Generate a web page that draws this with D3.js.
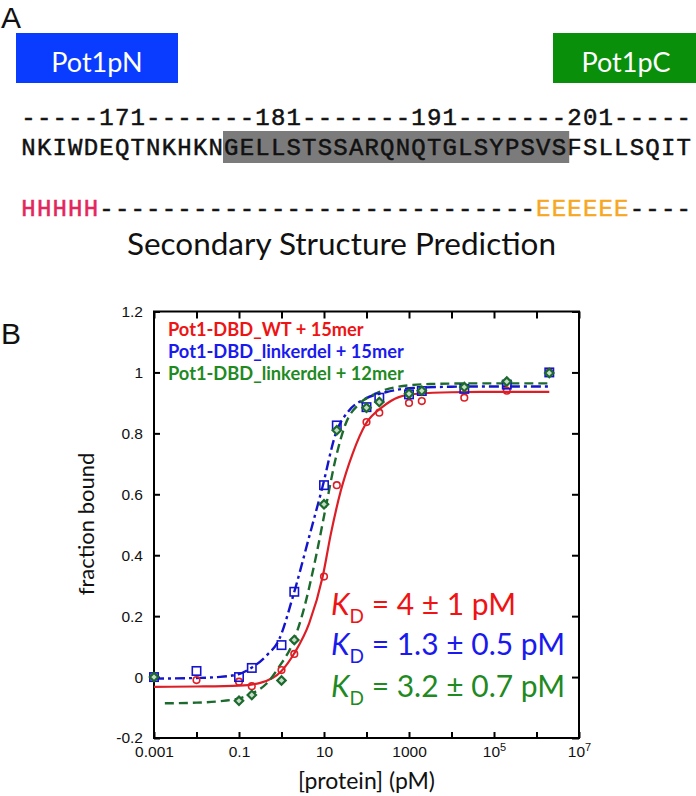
<!DOCTYPE html>
<html><head><meta charset="utf-8">
<script src="https://cdn.jsdelivr.net/npm/d3@7"></script>
<style>body{margin:0;background:#fff} svg{display:block}</style>
</head><body>
<script>
// ---------------- DATA ----------------
const concentrations = [0.001, 0.01, 0.1, 0.2, 1, 2, 10, 20, 100, 200, 1000, 2000, 20000, 200000, 2000000];
const wt15Fraction      = [0, -0.01, -0.015, -0.03, 0.023, 0.076, 0.33, 0.63, 0.837, 0.868, 0.90, 0.906, 0.917, 0.94, 1.0];
const linker15Fraction  = [0, 0.02, 0.0, 0.03, 0.105, 0.28, 0.63, 0.826, 0.886, 0.917, 0.928, 0.939, 0.946, 0.96, 1.0];
const linker12Fraction  = [0, null, -0.078, -0.059, -0.011, 0.122, 0.567, 0.81, 0.884, 0.903, 0.93, 0.94, 0.952, 0.97, 0.998];

const wt15FitConc  = [0.001, 0.01, 0.1, 0.316, 1, 2, 4.47, 9.3, 14.5, 25, 47, 95, 234, 575, 1585, 10000, 100000, 2000000];
const wt15FitValue = [-0.032, -0.031, -0.028, -0.019, 0.02, 0.078, 0.176, 0.329, 0.47, 0.613, 0.733, 0.83, 0.886, 0.919, 0.93, 0.935, 0.936, 0.936];

const linker15FitConc  = [0.001, 0.01, 0.0316, 0.1, 0.21, 0.44, 0.89, 1.82, 4.47, 9.2, 19, 39, 95, 282, 1000, 10000, 100000, 2000000];
const linker15FitValue = [-0.005, -0.003, 0.0, 0.01, 0.033, 0.07, 0.125, 0.26, 0.46, 0.624, 0.80, 0.875, 0.914, 0.935, 0.948, 0.953, 0.954, 0.954];

const linker12FitConc  = [0.0018, 0.01, 0.042, 0.1, 0.21, 0.44, 0.89, 1.82, 3.16, 6.46, 11.1, 19, 32, 68, 162, 500, 3162, 31623, 2000000];
const linker12FitValue = [-0.086, -0.084, -0.078, -0.07, -0.053, -0.022, 0.035, 0.11, 0.21, 0.395, 0.56, 0.72, 0.83, 0.897, 0.93, 0.952, 0.962, 0.964, 0.964];

const seriesNames = ["Pot1-DBD_WT + 15mer", "Pot1-DBD_linkerdel + 15mer", "Pot1-DBD_linkerdel + 12mer"];
const kdValues = ["= 4 \u00B1 1 pM", "= 1.3 \u00B1 0.5 pM", "= 3.2 \u00B1 0.7 pM"];

const xTickValues = [1e-3, 1e-2, 1e-1, 1, 10, 100, 1e3, 1e4, 1e5, 1e6, 1e7];
const xTickLabels = ["0.001", "", "0.1", "", "10", "", "1000", "", "10^5", "", "10^7"];
const yTickValues = [-0.2, 0, 0.2, 0.4, 0.6, 0.8, 1.0, 1.2];
const yTickLabels = ["-0.2", "0", "0.2", "0.4", "0.6", "0.8", "1", "1.2"];

const domainNames = ["Pot1pN", "Pot1pC"];
const numbering = "-----171-------181-------191-------201-----";
const sequence  = "NKIWDEQTNKHKNGELLSTSSARQNQTGLSYPSVSFSLLSQIT";
const ssPrediction = "HHHHH" + "----------------------------" + "EEEEEE" + "----";
const linkerStart = 13, linkerEnd = 35; // highlighted residues [start, end)

// ---------------- LAYOUT ----------------
const W = 696, H = 796;
const svg = d3.select("body").append("svg").attr("width", W).attr("height", H);
const calibri = "Lato, 'Open Sans', sans-serif";
const arial = "'Liberation Sans', Arial, sans-serif";
const mono = "'Liberation Mono', 'Courier New', monospace";

function fitWidth(sel, target) {
  const w = sel.node().getComputedTextLength();
  const fs = parseFloat(sel.attr("font-size"));
  sel.attr("font-size", fs * target / w);
  return fs * target / w;
}

// ---- Panel A ----
svg.append("text").attr("x", 1).attr("y", 27.5).attr("font-family", arial)
  .attr("font-size", 30).attr("fill", "#111").text("A");

const boxes = [
  {x: 16, w: 162, fill: "#0a3cff", cx: 97},
  {x: 553, w: 143, fill: "#0a8f0a", cx: 626}
];
boxes.forEach((b, i) => {
  svg.append("rect").attr("x", b.x).attr("y", 33).attr("width", b.w).attr("height", 50).attr("fill", b.fill);
  svg.append("text").attr("x", b.cx).attr("y", 71.5).attr("text-anchor", "middle")
    .attr("font-family", calibri).attr("font-size", 27).attr("fill", "#fff").text(domainNames[i]);
});

const charX = d3.scaleLinear().domain([0, 43]).range([20.7, 691.5]);
const pitch = charX(1) - charX(0);

svg.append("rect").attr("x", charX(linkerStart) - 0.5).attr("y", 131)
  .attr("width", charX(linkerEnd) - charX(linkerStart) + 3).attr("height", 32).attr("fill", "#7b7b7b");

function drawMono(str, baseline, colorFn) {
  svg.append("g").selectAll("text").data(str.split("")).join("text")
    .attr("x", (d, i) => charX(i) + pitch / 2).attr("y", baseline)
    .attr("text-anchor", "middle").attr("font-family", mono).attr("font-size", 24)
    .attr("stroke-width", 0.5)
    .attr("fill", (d, i) => colorFn(d, i)).attr("stroke", (d, i) => colorFn(d, i)).text(d => d);
}
drawMono(numbering, 125, () => "#111");
drawMono(sequence, 155, () => "#111");
drawMono(ssPrediction, 216, d => d === "H" ? "#e3265c" : d === "E" ? "#f7a823" : "#111");

const ssTitle = svg.append("text").attr("x", 127).attr("y", 255).attr("font-family", calibri)
  .attr("font-size", 26).attr("fill", "#111").text("Secondary Structure Prediction");
fitWidth(ssTitle, 429);

// ---- Panel B ----
svg.append("text").attr("x", 1).attr("y", 344).attr("font-family", arial)
  .attr("font-size", 30).attr("fill", "#111").text("B");

const x = d3.scaleLog().domain([1e-3, 1e7]).range([154, 579]);
const y = d3.scaleLinear().domain([-0.2, 1.2]).range([738, 311.5]);

const colors = {
  redText: "#ee1414", redLine: "#dc1e26",
  blueText: "#1a1aee", blueLine: "#1414cc",
  greenText: "#1f8a1f", greenLine: "#1d6a2e"
};

// axes
const gx = svg.append("g").attr("transform", `translate(0,${y.range()[0]})`)
  .call(d3.axisBottom(x).tickValues(xTickValues).tickSizeInner(-6).tickSizeOuter(0).tickPadding(8)
    .tickFormat((d, i) => xTickLabels[i]));
const gxt = svg.append("g").attr("transform", `translate(0,${y.range()[1]})`)
  .call(d3.axisTop(x).tickValues(xTickValues).tickSizeInner(-7).tickSizeOuter(0).tickFormat(""));
const gy = svg.append("g").attr("transform", `translate(${x.range()[0]},0)`)
  .call(d3.axisLeft(y).tickValues(yTickValues).tickSizeInner(-6).tickSizeOuter(0).tickPadding(11)
    .tickFormat((d, i) => yTickLabels[i]));
const gyr = svg.append("g").attr("transform", `translate(${x.range()[1]},0)`)
  .call(d3.axisRight(y).tickValues(yTickValues).tickSizeInner(-7).tickSizeOuter(0).tickFormat(""));

[gx, gxt, gy, gyr].forEach(g => {
  g.select(".domain").remove();
  g.selectAll(".tick line").attr("stroke", "#000").attr("stroke-width", 2);
  g.selectAll("text").attr("font-family", arial).attr("font-size", 15.5).attr("fill", "#111");
});
// superscript labels
gx.selectAll(".tick text").each(function(d, i) {
  const lab = xTickLabels[i];
  if (lab.includes("^")) {
    const [base, exp] = lab.split("^");
    const t = d3.select(this).text(null);
    t.append("tspan").text(base);
    t.append("tspan").attr("font-size", 11).attr("dy", "-0.55em").text(exp);
  }
});

svg.append("rect").attr("x", x.range()[0]).attr("y", y.range()[1])
  .attr("width", x.range()[1] - x.range()[0]).attr("height", y.range()[0] - y.range()[1])
  .attr("fill", "none").attr("stroke", "#000").attr("stroke-width", 2);

// axis titles
svg.append("text").attr("transform", `translate(94,524) rotate(-90)`).attr("text-anchor", "middle")
  .attr("font-family", calibri).attr("font-size", 22).attr("fill", "#111").text("fraction bound");
svg.append("text").attr("x", 366.5).attr("y", 789).attr("text-anchor", "middle")
  .attr("font-family", calibri).attr("font-size", 23).attr("fill", "#111").text("[protein] (pM)");

// fit curves
const line = d3.line().x(d => x(d.c)).y(d => y(d.v)).curve(d3.curveMonotoneX);
function fitData(cs, vs) { return cs.map((c, i) => ({c, v: vs[i]})); }
svg.append("path").datum(fitData(wt15FitConc, wt15FitValue)).attr("d", line)
  .attr("fill", "none").attr("stroke", colors.redLine).attr("stroke-width", 2.2);
svg.append("path").datum(fitData(linker15FitConc, linker15FitValue)).attr("d", line)
  .attr("fill", "none").attr("stroke", colors.blueLine).attr("stroke-width", 2.4)
  .attr("stroke-dasharray", "10,4,3,4");
svg.append("path").datum(fitData(linker12FitConc, linker12FitValue)).attr("d", line)
  .attr("fill", "none").attr("stroke", colors.greenLine).attr("stroke-width", 2.4)
  .attr("stroke-dasharray", "9,5");

// data points
function pts(vals) { return concentrations.map((c, i) => ({c, v: vals[i]})).filter(d => d.v !== null); }
svg.append("g").selectAll("circle").data(pts(wt15Fraction)).join("circle")
  .attr("cx", d => x(d.c)).attr("cy", d => y(d.v)).attr("r", 3.3)
  .attr("fill", "none").attr("stroke", colors.redLine).attr("stroke-width", 1.6);
svg.append("g").selectAll("rect").data(pts(linker15Fraction)).join("rect")
  .attr("x", d => x(d.c) - 4.2).attr("y", d => y(d.v) - 4.2).attr("width", 8.4).attr("height", 8.4)
  .attr("fill", "none").attr("stroke", colors.blueLine).attr("stroke-width", 1.6);
const dr = 4.2;
svg.append("g").selectAll("path").data(pts(linker12Fraction)).join("path")
  .attr("transform", d => `translate(${x(d.c)},${y(d.v)})`)
  .attr("d", `M0,${-dr}L${dr},0L0,${dr}L${-dr},0Z`)
  .attr("fill", "#c6dcc6").attr("stroke", colors.greenLine).attr("stroke-width", 2.2);

// legend
const legendColors = [colors.redText, colors.blueText, colors.greenText];
const legend = svg.append("g").selectAll("text").data(seriesNames).join("text")
  .attr("x", 168).attr("y", (d, i) => 336 + i * 22)
  .attr("font-family", calibri).attr("font-weight", "bold").attr("font-size", 17)
  .attr("fill", (d, i) => legendColors[i]).text(d => d);
const lfs = fitWidth(d3.select(legend.nodes()[2]), 236);
legend.attr("font-size", lfs);

// KD annotations
const kdColors = [colors.redText, colors.blueText, colors.greenText];
const kdBase = [615, 655, 697];
const kdTexts = kdValues.map((v, i) => {
  const t = svg.append("text").attr("x", 331).attr("y", kdBase[i]).attr("font-family", calibri)
    .attr("font-size", 30).attr("fill", kdColors[i]);
  t.append("tspan").attr("font-style", "italic").text("K");
  t.append("tspan").attr("font-size", 19).attr("dy", 8).text("D");
  t.append("tspan").attr("dy", -8).text(" " + v);
  return t;
});
const w2 = kdTexts[1].node().getComputedTextLength();
const kScale = (565 - 331) / w2;
kdTexts.forEach(t => {
  t.attr("font-size", 30 * kScale);
  t.selectAll("tspan").filter((d, j) => j === 1).attr("font-size", 19 * kScale);
});
</script>
</body></html>
